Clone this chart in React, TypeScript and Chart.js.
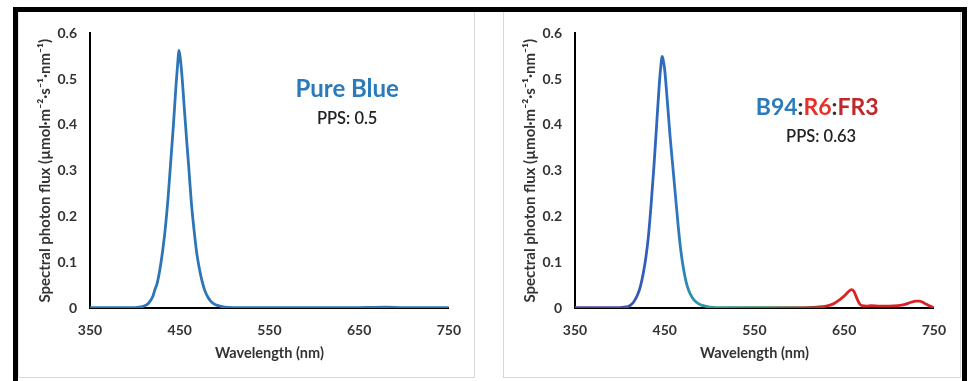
import React, { useEffect, useRef } from "react";
import { Chart, registerables } from "chart.js";

Chart.register(...registerables);

// ---------- data ----------
const xTickValues = [350, 450, 550, 650, 750];
const yTickValues = [0, 0.1, 0.2, 0.3, 0.4, 0.5, 0.6];

const pureWavelength = [
  350, 370, 390, 400, 405, 410, 415, 420, 422, 425, 428, 431, 434, 437, 440, 443, 446, 448, 449, 450,
  452, 455, 458, 460, 463, 466, 469, 472, 475, 478, 482, 486, 490, 495, 500, 510, 530, 560, 600, 640,
  680, 700, 730, 750,
];
const pureFlux = [
  0.001, 0.001, 0.001, 0.001, 0.002, 0.004, 0.01, 0.025, 0.038, 0.055, 0.085, 0.125, 0.175, 0.24, 0.32,
  0.4, 0.49, 0.54, 0.563, 0.555, 0.52, 0.44, 0.36, 0.31, 0.23, 0.17, 0.12, 0.085, 0.058, 0.038, 0.022,
  0.012, 0.007, 0.004, 0.002, 0.001, 0.001, 0.001, 0.001, 0.001, 0.002, 0.001, 0.001, 0.001,
];

const mixWavelength = [
  350, 370, 390, 400, 405, 410, 415, 420, 423, 426, 429, 432, 435, 438, 441, 444, 446, 447, 448, 450,
  453, 456, 459, 462, 465, 468, 471, 474, 477, 481, 485, 490, 495, 500, 508, 520, 550, 580, 600, 620,
  630, 638, 645, 650, 655, 658, 661, 664, 667, 670, 675, 680, 690, 700, 710, 718, 724, 730, 734, 740,
  745, 750,
];
const mixFlux = [
  0.001, 0.001, 0.001, 0.001, 0.002, 0.004, 0.012, 0.03, 0.048, 0.075, 0.11, 0.16, 0.23, 0.31, 0.4,
  0.49, 0.535, 0.55, 0.545, 0.52, 0.45, 0.375, 0.31, 0.245, 0.18, 0.125, 0.085, 0.056, 0.037, 0.022,
  0.013, 0.007, 0.004, 0.002, 0.001, 0.001, 0.001, 0.001, 0.001, 0.002, 0.004, 0.009, 0.018, 0.026,
  0.036, 0.04, 0.036, 0.022, 0.01, 0.005, 0.004, 0.005, 0.004, 0.004, 0.005, 0.008, 0.012, 0.015,
  0.015, 0.01, 0.005, 0.001,
];

// spectral colour stops for the mixed spectrum line: [wavelength, colour]
const spectralStops: [number, string][] = [
  [350, "#5a4196"],
  [400, "#4a4aa2"],
  [430, "#3060b8"],
  [450, "#2e6cc0"],
  [465, "#2e78bc"],
  [475, "#2a8cb0"],
  [488, "#2a9ca4"],
  [505, "#2a9a96"],
  [530, "#2e8c6c"],
  [565, "#3f7c50"],
  [595, "#6a5a3a"],
  [618, "#a03a2a"],
  [635, "#dc2424"],
  [750, "#d42228"],
];

const pureTitle: [string, string][] = [["Pure Blue", "#2b7bba"]];
const pureSub = "PPS: 0.5";
const mixTitle: [string, string][] = [
  ["B94", "#2b7bba"],
  [":", "#333333"],
  ["R6", "#e8302a"],
  [":", "#333333"],
  ["FR3", "#c0272d"],
];
const mixSub = "PPS: 0.63";

const yTitle = "Spectral photon flux (µmol·m⁻²·s⁻¹·nm⁻¹)";
const xTitle = "Wavelength (nm)";

const FONT = "Lato, 'Open Sans', sans-serif";

type Props = {
  left: number;
  wavelengths: number[];
  flux: number[];
  color: string | "spectral";
  title: [string, string][];
  sub: string;
  titlePos: [number, number];
  subPos: [number, number];
  titleSize: number;
};

function SpectrumChart(p: Props) {
  const ref = useRef<HTMLCanvasElement | null>(null);
  useEffect(() => {
    if (!ref.current) return;
    const annot = {
      id: "annot",
      afterDatasetsDraw(chart: any) {
        const c = chart.ctx as CanvasRenderingContext2D;
        const xs = chart.scales.x;
        const ys = chart.scales.y;
        c.save();
        c.textBaseline = "middle";
        c.textAlign = "left";
        c.font = `bold ${p.titleSize}px ${FONT}`;
        const total = p.title.reduce((s, t) => s + c.measureText(t[0]).width, 0);
        let x = xs.getPixelForValue(p.titlePos[0]) - total / 2;
        const y = ys.getPixelForValue(p.titlePos[1]);
        for (const [t, col] of p.title) {
          c.fillStyle = col;
          c.fillText(t, x, y);
          x += c.measureText(t).width;
        }
        c.font = `600 16.5px ${FONT}`;
        c.fillStyle = "#222222";
        c.textAlign = "center";
        c.fillText(p.sub, xs.getPixelForValue(p.subPos[0]), ys.getPixelForValue(p.subPos[1]));
        c.restore();
      },
    };
    const borderColor =
      p.color === "spectral"
        ? (ctx: any) => {
            const chart = ctx.chart;
            const area = chart.chartArea;
            if (!area) return "#2e6cc0";
            const xs = chart.scales.x;
            const x0 = xs.getPixelForValue(350);
            const x1 = xs.getPixelForValue(750);
            const g = chart.ctx.createLinearGradient(x0, 0, x1, 0);
            for (const [w, col] of spectralStops) g.addColorStop((w - 350) / 400, col);
            return g;
          }
        : p.color;
    const chart = new Chart(ref.current, {
      type: "line",
      data: {
        datasets: [
          {
            data: p.wavelengths.map((w, i) => ({ x: w, y: p.flux[i] })),
            borderColor: borderColor as any,
            borderWidth: 2.8,
            pointRadius: 0,
            fill: false,
            cubicInterpolationMode: "monotone",
          },
        ],
      },
      options: {
        animation: false,
        responsive: false,
        devicePixelRatio: 1,
        layout: { padding: { left: 0, top: 17, right: 25, bottom: 0 } },
        plugins: { legend: { display: false }, tooltip: { enabled: false } },
        scales: {
          x: {
            type: "linear",
            min: 350,
            max: 750,
            afterBuildTicks: (s: any) => {
              s.ticks = xTickValues.map((v) => ({ value: v }));
            },
            afterFit: (s: any) => {
              s.height = 71;
            },
            grid: { display: false, drawTicks: false },
            border: { display: true, color: "#000000", width: 2 },
            ticks: {
              padding: 14,
              color: "#333333",
              font: { family: FONT, size: 14, weight: "bold" },
              maxRotation: 0,
            },
            title: {
              display: true,
              text: xTitle,
              color: "#333333",
              font: { family: FONT, size: 14.5, weight: "bold" },
              padding: { top: 0, bottom: 17 },
            },
          },
          y: {
            type: "linear",
            min: 0,
            max: 0.6,
            afterBuildTicks: (s: any) => {
              s.ticks = yTickValues.map((v) => ({ value: v }));
            },
            afterFit: (s: any) => {
              s.width = 71;
            },
            grid: { display: false, drawTicks: false },
            border: { display: true, color: "#000000", width: 2 },
            ticks: {
              padding: 13,
              color: "#333333",
              font: { family: FONT, size: 14, weight: "bold" },
              callback: (v: any) => String(Math.round(Number(v) * 10) / 10),
            },
            title: {
              display: true,
              text: yTitle,
              color: "#333333",
              font: { family: FONT, size: 15, weight: "bold" },
              padding: { top: 17, bottom: 0 },
            },
          },
        },
      },
      plugins: [annot],
    });
    return () => chart.destroy();
  }, []);
  return (
    <canvas
      ref={ref}
      width={456}
      height={367}
      style={{ position: "absolute", left: p.left, top: 12, width: 456, height: 367 }}
    />
  );
}

export default function App() {
  return (
    <div
      style={{
        position: "absolute",
        left: 0,
        top: 0,
        width: 970,
        height: 381,
        background: "#ffffff",
        overflow: "hidden",
      }}
    >
      {/* panels */}
      <div style={{ position: "absolute", left: 18, top: 12, width: 457, height: 366, border: "1px solid #d8d8d8", boxSizing: "border-box", borderTop: "none", borderLeft: "1px solid #e4e4e4" }} />
      <div style={{ position: "absolute", left: 503, top: 12, width: 458, height: 366, border: "1px solid #d8d8d8", boxSizing: "border-box", borderTop: "none" }} />
      <SpectrumChart
        left={19}
        wavelengths={pureWavelength}
        flux={pureFlux}
        color="#2e75b6"
        title={pureTitle}
        sub={pureSub}
        titlePos={[636.7, 0.477]}
        subPos={[636.7, 0.414]}
        titleSize={24}
      />
      <SpectrumChart
        left={504}
        wavelengths={mixWavelength}
        flux={mixFlux}
        color="spectral"
        title={mixTitle}
        sub={mixSub}
        titlePos={[620, 0.438]}
        subPos={[624.4, 0.375]}
        titleSize={23}
      />
      {/* black frame */}
      <div style={{ position: "absolute", left: 13, top: 7, width: 954, height: 5, background: "#000" }} />
      <div style={{ position: "absolute", left: 13, top: 7, width: 5, height: 374, background: "#000" }} />
      <div style={{ position: "absolute", left: 962, top: 7, width: 5, height: 374, background: "#000" }} />
    </div>
  );
}
